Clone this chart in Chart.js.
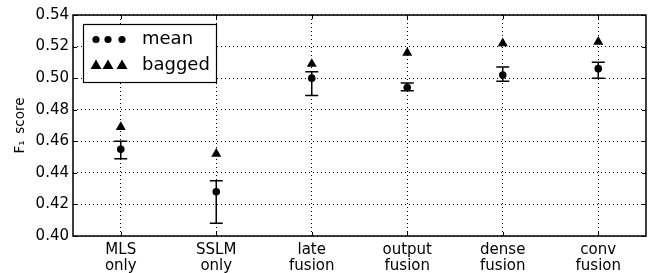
<!DOCTYPE html>
<html>
<head>
<meta charset="utf-8">
<script src="https://cdn.jsdelivr.net/npm/chart.js@4/dist/chart.umd.min.js"></script>
<style>
  html, body { margin:0; padding:0; background:#fff; }
  #wrap { width:654px; height:273px; }
</style>
</head>
<body>
<div id="wrap"><canvas id="f1Chart"></canvas></div>
<script>
// DATA
const categories = [['MLS','only'],['SSLM','only'],['late','fusion'],['output','fusion'],['dense','fusion'],['conv','fusion']];
const meanScores   = [0.455, 0.428, 0.500, 0.494, 0.502, 0.506];
const errLow       = [0.449, 0.408, 0.489, 0.492, 0.498, 0.500];
const errHigh      = [0.460, 0.435, 0.504, 0.497, 0.507, 0.510];
const baggedScores = [0.469, 0.452, 0.509, 0.516, 0.522, 0.523];
const yTicks = [0.40, 0.42, 0.44, 0.46, 0.48, 0.50, 0.52, 0.54];

const FONT = 'DejaVu Sans';

// ======================================
// PLUGINS
// ======================================
const frame = {
  id:'frame',
  beforeDatasetsDraw(chart){
    const {ctx, chartArea:a, scales:{x, y}} = chart;
    ctx.save();
    ctx.strokeStyle = '#000';
    ctx.lineWidth = 1;
    ctx.beginPath();
    // inward ticks
    y.ticks.forEach((t, i) => {
      const py = Math.round(y.getPixelForTick(i)) + 0.5;
      ctx.moveTo(a.left, py); ctx.lineTo(a.left + 4, py);
      ctx.moveTo(a.right, py); ctx.lineTo(a.right - 4, py);
    });
    x.ticks.forEach((t, i) => {
      const px = Math.round(x.getPixelForTick(i)) + 0.5;
      ctx.moveTo(px, a.bottom); ctx.lineTo(px, a.bottom - 4);
      ctx.moveTo(px, a.top); ctx.lineTo(px, a.top + 4);
    });
    ctx.stroke();
    ctx.lineWidth = 1.5;
    ctx.strokeRect(a.left, a.top, a.right - a.left, a.bottom - a.top);

    // error bars
    ctx.lineWidth = 1.5;
    ctx.beginPath();
    meanScores.forEach((v, i) => {
      const px = x.getPixelForValue(i);
      const lo = y.getPixelForValue(errLow[i]);
      const hi = y.getPixelForValue(errHigh[i]);
      ctx.moveTo(px, lo); ctx.lineTo(px, hi);
      ctx.moveTo(px - 6.5, lo); ctx.lineTo(px + 6.5, lo);
      ctx.moveTo(px - 6.5, hi); ctx.lineTo(px + 6.5, hi);
    });
    ctx.stroke();
    ctx.restore();
  }
};

const boxLegend = {
  id:'boxLegend',
  afterDraw(chart){
    const {ctx} = chart;
    const left = 83, top = 24, w = 133, h = 58;
    ctx.save();
    ctx.fillStyle = '#fff';
    ctx.fillRect(left, top, w, h);
    ctx.strokeStyle = '#000';
    ctx.lineWidth = 1.2;
    ctx.strokeRect(left + 0.5, top + 0.5, w, h);
    ctx.fillStyle = '#000';
    const xs = [96, 108, 122];
    chart.data.datasets.forEach((ds, r) => {
      const cy = r === 0 ? 39.5 : 65;
      xs.forEach(cx => {
        ctx.beginPath();
        if(ds.pointStyle === 'circle'){
          ctx.arc(cx, cy, 3.6, 0, Math.PI * 2);
        } else {
          ctx.moveTo(cx, cy - 5.5);
          ctx.lineTo(cx + 5.5, cy + 4);
          ctx.lineTo(cx - 5.5, cy + 4);
          ctx.closePath();
        }
        ctx.fill();
      });
      ctx.font = `18px "${FONT}"`;
      ctx.textBaseline = 'middle';
      ctx.fillText(ds.label, 142, cy);
    });
    ctx.restore();
  }
};

// ======================================
// CHART
// ======================================
new Chart(document.getElementById('f1Chart'), {
  type:'line',
  data:{
    labels:categories,
    datasets:[
      {
        label:'mean',
        data:meanScores,
        showLine:false,
        pointStyle:'circle',
        pointRadius:3.8,
        pointBackgroundColor:'#000',
        pointBorderWidth:0
      },
      {
        label:'bagged',
        data:baggedScores,
        showLine:false,
        pointStyle:'triangle',
        pointRadius:5.8,
        pointBackgroundColor:'#000',
        pointBorderWidth:0
      }
    ]
  },
  options:{
    responsive:true,
    maintainAspectRatio:false,
    animation:false,
    layout:{ padding:{ left:0, right:8, top:15, bottom:0 } },
    plugins:{
      legend:{ display:false },
      tooltip:{ enabled:false }
    },
    scales:{
      x:{
        type:'category',
        offset:true,
        grid:{ offset:false, color:'#000', lineWidth:1, drawTicks:false },
        border:{ display:false, dash:[1,3] },
        ticks:{
          color:'#000',
          font:{ family:FONT, size:15, lineHeight:1.05 },
          padding:6,
          maxRotation:0,
          autoSkip:false
        },
        afterFit(s){ s.height = 37; }
      },
      y:{
        min:0.40,
        max:0.54,
        afterBuildTicks(s){ s.ticks = yTicks.map(v => ({value:v})); },
        grid:{ color:'#000', lineWidth:1, drawTicks:false },
        border:{ display:false, dash:[1,3] },
        ticks:{
          color:'#000',
          font:{ family:FONT, size:15 },
          padding:4,
          callback:(v)=> v.toFixed(2)
        },
        title:{
          display:true,
          text:'F\u2081\u2002score',
          color:'#000',
          font:{ family:FONT, size:13.5 },
          padding:{ top:12, bottom:0 }
        },
        afterFit(s){ s.width = 73; }
      }
    }
  },
  plugins:[frame, boxLegend]
});
</script>
</body>
</html>
